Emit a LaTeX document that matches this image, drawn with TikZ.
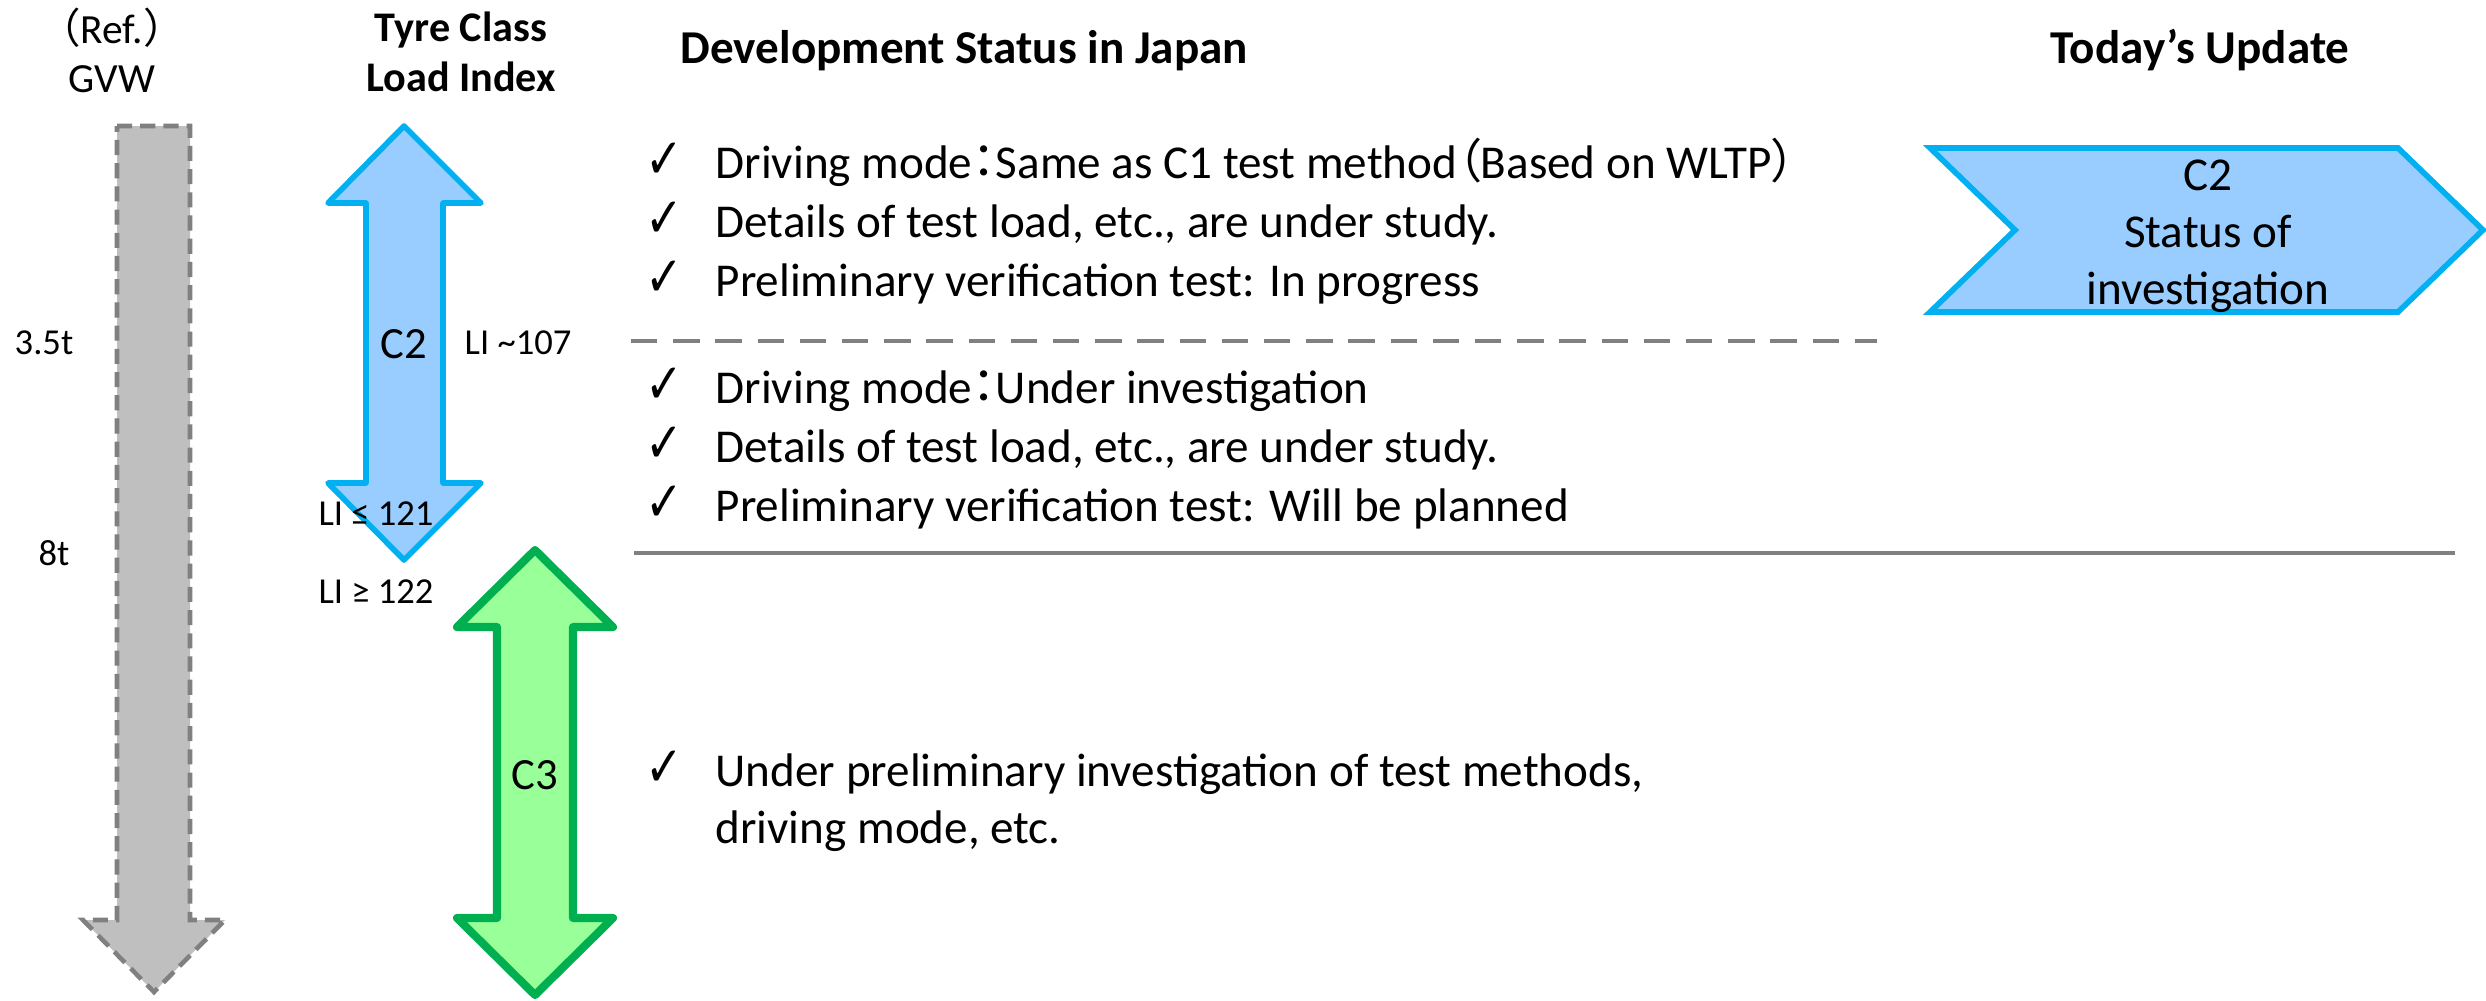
\documentclass[tikz,border=0pt]{standalone}
\usepackage{fontspec}
\setmainfont{Carlito}
\newfontfamily\cjkfont{Noto Sans CJK JP}
\newfontfamily\cjkpalt[CharacterWidth=AlternateProportional]{Noto Sans CJK JP}
\newfontfamily\symfont{DejaVu Sans}
\definecolor{ctwofill}{HTML}{99CCFF}
\definecolor{ctwoline}{HTML}{00B0F0}
\definecolor{cthreefill}{HTML}{99FF99}
\definecolor{cthreeline}{HTML}{00B050}
\definecolor{gvwfill}{HTML}{BFBFBF}
\definecolor{rulegrey}{HTML}{808080}
\tikzset{%
  heading/.style    = {inner sep=0pt, align=center, font=\bfseries\fontsize{13.4}{16}\selectfont},%
  colhead/.style    = {inner sep=0pt, align=center, font=\bfseries\fontsize{12}{14.3}\selectfont},%
  gvwhead/.style    = {inner sep=0pt, align=center, font=\fontsize{11.8}{14}\selectfont},%
  bodytext/.style   = {anchor=base west, inner sep=0pt, font=\fontsize{13.4}{16}\selectfont},%
  tick/.style       = {anchor=base, inner sep=0pt, font=\symfont\fontsize{16}{16}\selectfont},%
  smalllabel/.style = {inner sep=0pt, font=\fontsize{10.4}{12}\selectfont},%
  classlabel/.style = {inner sep=0pt, font=\fontsize{12.7}{15}\selectfont},%
  gvwarrow/.style   = {draw=rulegrey, fill=gvwfill, line width=1.3pt, dash pattern=on 4.3pt off 2.3pt},%
  ctwoarrow/.style  = {draw=ctwoline, fill=ctwofill, line width=1.6pt, line join=round},%
  cthreearrow/.style= {draw=cthreeline, fill=cthreefill, line width=2.3pt, line join=round},%
  divider/.style    = {draw=rulegrey, line width=1.2pt}%
}
\newcommand{\tickmark}{\scalebox{0.8}[1]{✓}}
\begin{document}
\begin{tikzpicture}[x=0.01cm, y=-0.01cm]
  \useasboundingbox (0,0) rectangle (2486,1000);
  % column headings
  \node[gvwhead] (gvw) at (112,50) {{\cjkfont （}Ref.{\cjkfont ）}\\GVW};
  \node[colhead] (tyre) at (461,52) {Tyre Class\\Load Index};
  \node[heading, anchor=base west] (devstatus) at (680,63) {Development Status in Japan};
  \node[heading, anchor=base] (update) at (2200,63) {Today’s Update};
  % vehicle weight arrow
  \draw[gvwarrow] (117,126) -- (190,126) -- (190,920) -- (225,920) -- (154,992)
                  -- (83,920) -- (117,920) -- cycle;
  \node[smalllabel] (w35) at (44,343) {3.5t};
  \node[smalllabel] (w8) at (54,553) {8t};
  % tyre classes
  \draw[ctwoarrow] (404,126) -- (481,203) -- (443,203) -- (443,483) -- (481,483)
                   -- (404,560) -- (328,483) -- (366,483) -- (366,203) -- (328,203) -- cycle;
  \draw[cthreearrow] (535,550) -- (613,627) -- (573,627) -- (573,918) -- (613,918)
                     -- (535,995) -- (457,918) -- (497,918) -- (497,627) -- (457,627) -- cycle;
  \node[classlabel] (c2) at (404,344) {C2};
  \node[classlabel] (c3) at (535,775) {C3};
  \node[smalllabel, anchor=west] (li107) at (464,343) {LI \textasciitilde107};
  \node[smalllabel] (li121) at (376,514) {LI ≤ 121};
  \node[smalllabel] (li122) at (376,592) {LI ≥ 122};
  % separators
  \draw[divider, dash pattern=on 7.5pt off 4.5pt] (631,341) -- (1877,341);
  \draw[divider] (634,553) -- (2455,553);
  % status items
  \foreach \name/\ypos/\txt in {%
      dmone/178/{Driving mode{\cjkpalt ：}Same as C1 test method{\cjkpalt （}Based on WLTP{\cjkpalt ）}},%
      ldone/237/{Details of test load, etc., are under study.},%
      pvone/296/{Preliminary verification test: In progress},%
      dmtwo/403/{Driving mode{\cjkpalt ：}Under investigation},%
      ldtwo/462/{Details of test load, etc., are under study.},%
      pvtwo/521/{Preliminary verification test: Will be planned},%
      ctrhee/786/{Under preliminary investigation of test methods,}}{
    \node[tick] (\name-tick) at (664,\ypos) {\tickmark};
    \node[bodytext] (\name) at (715,\ypos) {\txt};
  }
  \node[bodytext] (ctrheecont) at (715,843) {driving mode, etc.};
  % today's update
  \draw[ctwoarrow, line join=miter] (1930,148) -- (2398,148) -- (2483,230) -- (2398,312)
                   -- (1930,312) -- (2015,230) -- cycle;
  \node[classlabel, align=center, font=\fontsize{13.4}{16.2}\selectfont] (ctwostatus)
       at (2208,236) {C2\\Status of\\investigation};
\end{tikzpicture}
\end{document}
